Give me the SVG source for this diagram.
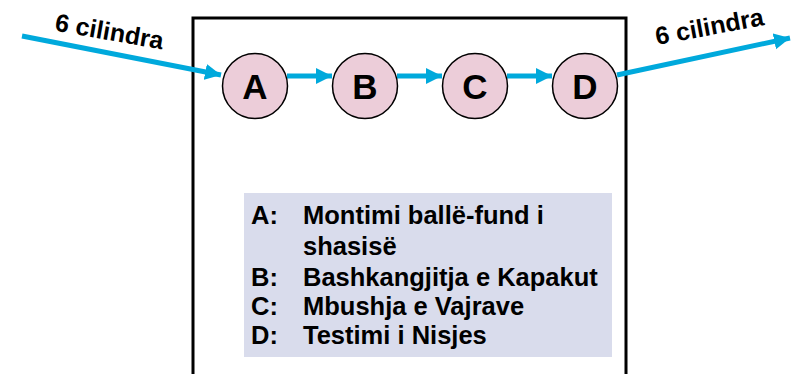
<svg xmlns="http://www.w3.org/2000/svg" width="791" height="374" viewBox="0 0 791 374">
  <style>
    .frame { fill: none; stroke: #000; stroke-width: 3; }
    .node circle { fill: #eccdd9; stroke: #000; stroke-width: 1.5; }
    .node text { font-family: "Liberation Sans", Arial, sans-serif; font-weight: bold; font-size: 35px; fill: #000; text-anchor: middle; }
    .conn { stroke: #00a9dc; stroke-width: 5; fill: none; }
    .flow { font-family: "Liberation Sans", Arial, sans-serif; font-weight: bold; font-size: 25px; fill: #000; text-anchor: middle; }
    .legend rect { fill: #d9dcec; }
    .legend text { font-family: "Liberation Sans", Arial, sans-serif; font-weight: bold; font-size: 25.5px; fill: #000; }
  </style>
  <defs>
    <marker id="ah" markerUnits="userSpaceOnUse" markerWidth="17" markerHeight="17" refX="16" refY="8" orient="auto">
      <path d="M0,0 L16,8 L0,16 Z" fill="#00a9dc"/>
    </marker>
  </defs>
  <rect width="791" height="374" fill="#fff"/>
  <path class="frame" d="M193,380 V18 H626 V380"/>

  <g id="connectors">
    <line class="conn" x1="22" y1="36" x2="221" y2="75" marker-end="url(#ah)"/>
    <line class="conn" x1="287" y1="76" x2="332" y2="76" marker-end="url(#ah)"/>
    <line class="conn" x1="397" y1="76" x2="442" y2="76" marker-end="url(#ah)"/>
    <line class="conn" x1="507" y1="76" x2="552" y2="76" marker-end="url(#ah)"/>
    <line class="conn" x1="617" y1="75" x2="790" y2="38" marker-end="url(#ah)"/>
  </g>

  <text class="flow" transform="translate(108,40) rotate(10)">6 cilindra</text>
  <text class="flow" transform="translate(711,35) rotate(-10.5)">6 cilindra</text>

  <g id="node-A" class="node"><circle cx="255" cy="86" r="32.5"/><text x="255" y="99">A</text></g>
  <g id="node-B" class="node"><circle cx="365" cy="86" r="32.5"/><text x="365" y="99">B</text></g>
  <g id="node-C" class="node"><circle cx="475" cy="86" r="32.5"/><text x="475" y="99">C</text></g>
  <g id="node-D" class="node"><circle cx="585" cy="86" r="32.5"/><text x="585" y="99">D</text></g>

  <g id="legend" class="legend">
    <rect x="244" y="193" width="368" height="164"/>
    <text x="251" y="224">A:</text><text x="303" y="224">Montimi ballë-fund i</text>
    <text x="303" y="255">shasisë</text>
    <text x="251" y="286">B:</text><text x="303" y="286">Bashkangjitja e Kapakut</text>
    <text x="251" y="315">C:</text><text x="303" y="315">Mbushja e Vajrave</text>
    <text x="251" y="344">D:</text><text x="303" y="344">Testimi i Nisjes</text>
  </g>
</svg>
